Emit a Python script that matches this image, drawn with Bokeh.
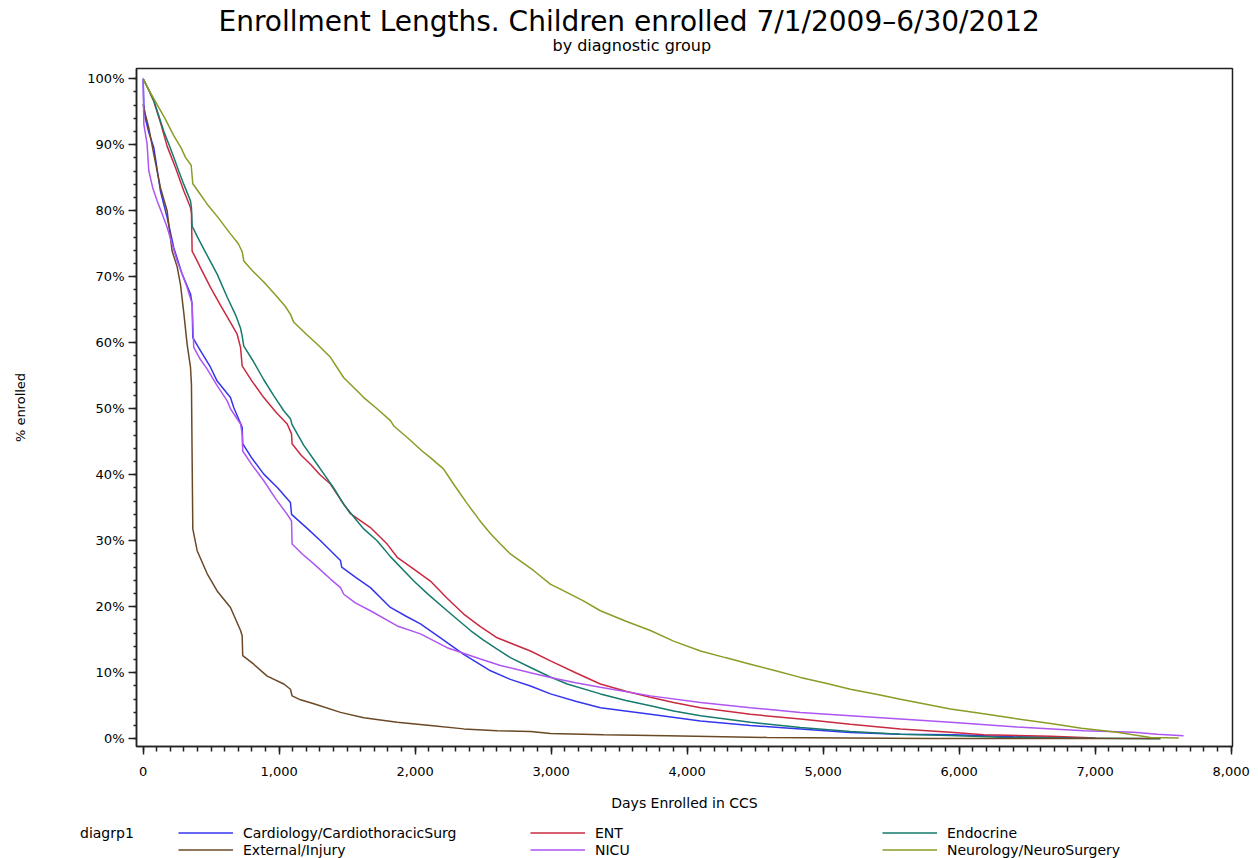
from bokeh.plotting import figure
from bokeh.layouts import column
from bokeh.models import (Range1d, SingleIntervalTicker, PrintfTickFormatter,
                          NumeralTickFormatter, Title, Legend, LegendItem)
from bokeh.embed import file_html
from bokeh.resources import INLINE

FONT = "DejaVu Sans"

# ---------------- data ----------------
series_names = ["Cardiology/CardiothoracicSurg", "ENT", "Endocrine",
                "External/Injury", "NICU", "Neurology/NeuroSurgery"]
series_colors = ["#3535EE", "#C92A40", "#167A6C", "#6B4826", "#AE55F2", "#8C9B26"]

cardio_days = [0, 5, 17, 41, 78, 127, 176, 225, 287, 348, 360, 365, 421, 495, 544, 642, 666, 728, 732, 800,
               887, 990, 1083, 1091, 1200, 1304, 1451, 1460, 1560, 1671, 1818, 1930, 2039, 2186, 2357, 2554,
               2700, 2848, 2995, 3180, 3362, 3730, 4098, 4465, 4833, 5200, 5568, 5960, 6400, 6900]
cardio_pct = [100, 96, 93.9, 91.9, 89.6, 83.0, 79.0, 74.4, 70.4, 67.4, 65.9, 60.8, 58.8, 56.3, 54.2, 51.7, 50.2,
              47.2, 44.7, 42.5, 40.1, 38.0, 35.8, 34.0, 32.0, 30.0, 27.0, 26.0, 24.5, 22.9, 19.9, 18.6, 17.4,
              15.3, 12.8, 10.3, 9.0, 8.0, 6.8, 5.7, 4.7, 3.7, 2.7, 2.0, 1.5, 0.95, 0.7, 0.6, 0.3, 0.1]

ent_days = [0, 40, 78, 130, 176, 240, 299, 348, 355, 360, 397, 421, 495, 568, 630, 691, 716, 728, 800, 887,
            980, 1059, 1091, 1095, 1160, 1230, 1300, 1377, 1450, 1524, 1671, 1794, 1868, 1990, 2112, 2235,
            2357, 2480, 2603, 2848, 2995, 3180, 3362, 3550, 3730, 3900, 4098, 4465, 4833, 5200, 5568, 5936,
            6181, 6673, 7003]
ent_pct = [100, 98.3, 96.6, 93.2, 89.8, 86.4, 83.0, 80.5, 79.7, 73.9, 72.4, 71.4, 68.4, 65.7, 63.5, 61.3, 59.3,
           56.5, 54.2, 51.7, 49.4, 47.7, 46.2, 44.7, 43.0, 41.6, 40.0, 38.6, 36.3, 34.1, 32.0, 29.5, 27.5, 25.7,
           23.9, 21.3, 18.9, 17.0, 15.3, 13.3, 11.8, 10.0, 8.3, 7.2, 6.3, 5.5, 4.7, 3.7, 3.0, 2.2, 1.5, 1.0,
           0.6, 0.4, 0.1]

endo_days = [0, 40, 78, 115, 151, 190, 225, 262, 299, 348, 355, 360, 400, 446, 495, 544, 618, 680, 716, 728,
             740, 810, 887, 960, 1034, 1083, 1095, 1180, 1279, 1340, 1401, 1475, 1573, 1622, 1720, 1818, 1990,
             2100, 2235, 2407, 2500, 2603, 2700, 2848, 2990, 3118, 3362, 3550, 3730, 3900, 4098, 4465, 4833,
             5200, 5568, 5936, 6305, 6800, 7480]
endo_pct = [100, 98.4, 96.7, 94.4, 92.1, 90, 88.1, 86, 84.0, 81.5, 80.5, 77.7, 76, 74.2, 72.3, 70.4, 66.9,
            64.2, 62.2, 61.0, 59.5, 57.2, 54.4, 52, 49.7, 48.5, 47.6, 44.5, 41.6, 39.8, 38.0, 35.5, 33.0, 31.8,
            30.0, 27.6, 23.9, 21.8, 19.4, 16.4, 15.0, 13.6, 12.3, 10.8, 9.4, 8.3, 6.8, 5.8, 5.0, 4.2, 3.5, 2.5,
            1.7, 1.1, 0.7, 0.5, 0.25, 0.1, 0.0]

ext_days = [0, 5, 41, 78, 127, 176, 213, 250, 274, 299, 323, 348, 355, 365, 397, 471, 544, 642, 716, 728,
            732, 813, 912, 1034, 1083, 1095, 1157, 1255, 1451, 1622, 1868, 2112, 2357, 2603, 2848, 2995,
            3385, 3853, 4588, 5772, 7480]
ext_pct = [96.2, 95.5, 92.6, 88.6, 83.5, 80.0, 73.9, 71.5, 68.9, 64.5, 59.8, 56.3, 53.7, 31.8, 28.5, 25.0,
           22.4, 19.9, 16.4, 15.6, 12.6, 11.3, 9.5, 8.3, 7.5, 6.5, 5.9, 5.3, 4.0, 3.2, 2.5, 2.0, 1.5, 1.2, 1.1,
           0.8, 0.6, 0.45, 0.2, 0.05, 0.05]

nicu_days = [0, 2, 5, 29, 41, 70, 103, 140, 176, 250, 323, 360, 365, 372, 420, 471, 544, 618, 642, 716,
             728, 732, 800, 887, 970, 1059, 1091, 1095, 1170, 1255, 1377, 1451, 1475, 1560, 1671, 1868, 2039,
             2235, 2480, 2627, 2848, 2995, 3180, 3362, 3730, 4098, 4465, 4833, 5200, 5568, 5936, 6426, 6917,
             7284, 7456, 7650]
nicu_pct = [100, 97, 93.1, 90.1, 86.1, 83.5, 81.5, 79.5, 77.5, 72.4, 68.4, 65.9, 63, 59.3, 57.5, 56.0, 53.5,
            51.2, 50.0, 47.7, 46.2, 43.6, 41.5, 39.1, 36.5, 34.0, 33.0, 29.5, 28, 26.5, 24.2, 22.9, 21.9, 20.6,
            19.4, 17.1, 15.9, 13.8, 12.1, 11.1, 10.0, 9.3, 8.5, 7.8, 6.5, 5.5, 4.7, 4.0, 3.5, 3.0, 2.5, 1.8,
            1.2, 1.0, 0.7, 0.45]

neuro_days = [0, 50, 103, 160, 225, 280, 311, 353, 365, 420, 471, 550, 642, 700, 728, 740, 800, 887, 970,
              1046, 1083, 1108, 1200, 1290, 1377, 1475, 1550, 1622, 1720, 1818, 1843, 1950, 2051, 2112, 2208,
              2282, 2384, 2470, 2553, 2627, 2700, 2870, 2996, 3046, 3237, 3362, 3550, 3730, 3900, 4098, 4280,
              4465, 4650, 4833, 5020, 5200, 5400, 5568, 5691, 5936, 6180, 6400, 6673, 6900, 7162, 7407, 7615]
neuro_pct = [100, 98, 96.1, 94, 91.4, 89.5, 88.1, 86.9, 84.1, 82.5, 81, 79, 76.5, 75, 73.8, 72.4, 71, 69.2,
             67.3, 65.5, 64.3, 63.1, 61.3, 59.6, 57.8, 54.7, 53.2, 51.7, 50.0, 48.2, 47.4, 45.5, 43.6, 42.6,
             40.9, 38.6, 35.6, 33.2, 31.1, 29.5, 28.0, 25.5, 23.4, 22.9, 20.9, 19.4, 17.8, 16.4, 14.8, 13.3,
             12.3, 11.3, 10.3, 9.3, 8.4, 7.5, 6.7, 6.0, 5.5, 4.5, 3.8, 3.1, 2.3, 1.6, 1.0, 0.2, 0.1]

series_days = [cardio_days, ent_days, endo_days, ext_days, nicu_days, neuro_days]
series_pct = [cardio_pct, ent_pct, endo_pct, ext_pct, nicu_pct, neuro_pct]

legend_title = "diagrp1"
x_ticks_interval = 1000
y_ticks_interval = 10

# ---------------- main figure ----------------
p = figure(width=1258, height=824, output_backend="svg", toolbar_location=None,
           x_range=Range1d(-49, 8010), y_range=Range1d(-1.17, 101.56),
           min_border_left=136, min_border_right=26, min_border_top=68, min_border_bottom=78)
p.xgrid.visible = False
p.ygrid.visible = False
p.outline_line_color = "#222222"
p.outline_line_width = 1.5
p.background_fill_color = "white"
p.border_fill_color = "white"

sub = Title(text="by diagnostic group", align="left", offset=416,
            text_font=FONT, text_font_size="16px", text_font_style="normal", text_color="black",
            standoff=27)
p.add_layout(sub, "above")
main = Title(text="Enrollment Lengths. Children enrolled 7/1/2009\u20136/30/2012", align="left", offset=82,
             text_font=FONT, text_font_size="28px", text_font_style="normal", text_color="black",
             standoff=-34)
p.add_layout(main, "above")

xa = p.xaxis[0]
xa.ticker = SingleIntervalTicker(interval=x_ticks_interval, num_minor_ticks=10)
xa.formatter = NumeralTickFormatter(format="0,0")
xa.axis_label = "Days Enrolled in CCS"
ya = p.yaxis[0]
ya.ticker = SingleIntervalTicker(interval=y_ticks_interval, num_minor_ticks=5)
ya.formatter = PrintfTickFormatter(format="%d%%")
ya.axis_label = "% enrolled"

for ax in (xa, ya):
    ax.axis_line_color = "#222222"
    ax.axis_line_width = 1.5
    ax.major_tick_line_color = "#222222"
    ax.major_tick_line_width = 1.5
    ax.minor_tick_line_color = "#222222"
    ax.minor_tick_line_width = 1.5
    ax.major_tick_in = 0
    ax.minor_tick_in = 0
    ax.major_label_text_font = FONT
    ax.major_label_text_color = "black"
    ax.axis_label_text_font = FONT
    ax.axis_label_text_font_style = "normal"
    ax.axis_label_text_color = "black"

xa.major_tick_out = 8
xa.minor_tick_out = 5
xa.major_label_text_font_size = "13px"
xa.major_label_standoff = 12
xa.axis_label_text_font_size = "14px"
xa.axis_label_standoff = 16

ya.major_tick_out = 8
ya.minor_tick_out = 3
ya.major_label_text_font_size = "13px"
ya.major_label_standoff = 4
ya.axis_label_text_font_size = "13px"
ya.axis_label_standoff = 56

renderers = []
for d, v, c in zip(series_days, series_pct, series_colors):
    renderers.append(p.line(d, v, line_color=c, line_width=1.5))

# ---------------- legend strip (below the chart) ----------------
# the key lines reuse the series data but the strip's ranges keep them out of view
lg = figure(width=1258, height=34, output_backend="svg", toolbar_location=None,
            x_axis_location=None, y_axis_location=None,
            x_range=Range1d(-20000, -19000), y_range=Range1d(-2000, -1000),
            min_border_left=0, min_border_right=0, min_border_top=0, min_border_bottom=0)
lg.frame_align = False
p.frame_align = False
lg.xgrid.visible = False
lg.ygrid.visible = False
lg.outline_line_color = None
lg.background_fill_color = "white"
lg.border_fill_color = "white"

key_renderers = [lg.line(d, v, line_color=c, line_width=1.5)
                 for d, v, c in zip(series_days, series_pct, series_colors)]
blank = lg.line(cardio_days, cardio_pct, line_alpha=0)

leg_kw = dict(glyph_height=17, label_height=17, spacing=0, padding=0, margin=0,
              label_text_font=FONT, label_text_font_size="14px", label_text_color="black",
              background_fill_alpha=0, border_line_alpha=0)

legB = Legend(items=[LegendItem(label=n, renderers=[r]) for n, r in zip(series_names, key_renderers)],
              orientation="horizontal", ncols=3, location=(178, 0),
              glyph_width=55, label_standoff=10, label_width=287, **leg_kw)
lg.add_layout(legB)

legA = Legend(items=[LegendItem(label=legend_title, renderers=[blank])],
              location=(80, 17), glyph_width=0, label_standoff=0, **leg_kw)
lg.add_layout(legA)

layout = column(p, lg, spacing=0)
open("out.html", "w").write(file_html(layout, INLINE))
